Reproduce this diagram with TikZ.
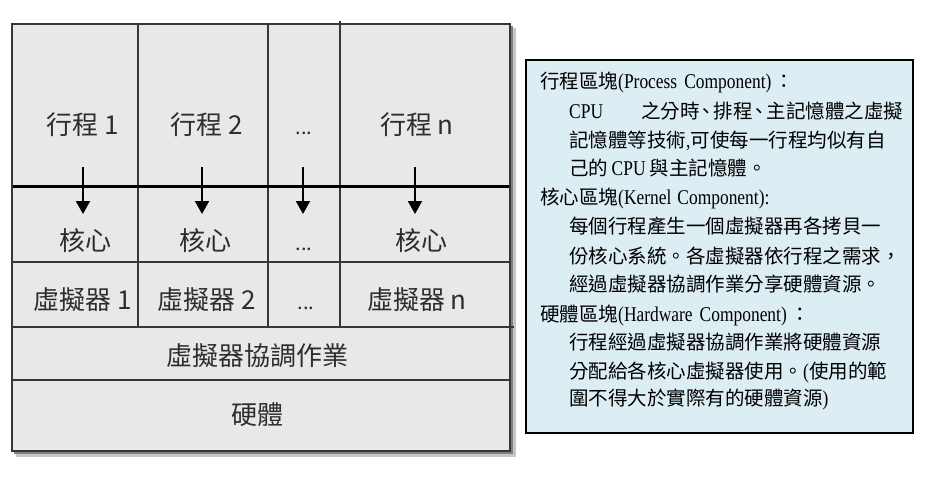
\documentclass[tikz,border=0pt]{standalone}
\usepackage{fontspec}
\setmainfont[FakeStretch=0.83]{Liberation Serif}
\newfontfamily\cjk{Noto Sans CJK TC}
\usetikzlibrary{arrows.meta}
\definecolor{cellfill}{RGB}{232,232,232}
\definecolor{gridline}{RGB}{55,55,55}
\definecolor{labelgray}{RGB}{45,45,45}
\definecolor{notefill}{RGB}{220,237,243}
\newcommand\zhtxt[1]{{\cjk\fontsize{19.5}{22}\selectfont #1}}
\newcommand\zhcomma{\makebox[14pt][c]{\zhtxt{、}}}

\begin{document}
\begin{tikzpicture}[x=1pt,y=-1pt,
  layer/.style={font=\cjk\fontsize{26}{30}\selectfont, text=labelgray, anchor=base, inner sep=0pt},
  dots/.style={font=\cjk\fontsize{20}{24}\selectfont, text=labelgray, anchor=base, inner sep=0pt},
  note/.style={font=\fontsize{21}{24}\selectfont, anchor=base west, inner sep=0pt},
  grid/.style={draw=gridline, line width=2pt},
  flow/.style={draw=black, line width=2pt, -{Triangle[width=14pt,length=13pt]}}]
\useasboundingbox (0,0) rectangle (926,485);

% drop shadow of the layer stack
\fill[black!22] (16,28) rectangle (516,457);
\fill[black!50] (14,26) rectangle (513,454);

% layer stack
\fill[cellfill] (12,24) rectangle (510,451);
\draw[grid] (138,24) -- (138,327) (268,24) -- (268,327) (340,21) -- (340,327);
\draw[grid] (12,262) -- (510,262) (12,327) -- (514,327) (12,380) -- (510,380);
\draw[line width=3pt, black] (13,186) -- (511,186);
\draw[grid] (12,24) rectangle (510,451);

% process row
\node[layer] (p1) at (83,134.5) {行程 1};
\node[layer] (p2) at (207,134.5) {行程 2};
\node[dots]  (pd) at (304,134.5) {...};
\node[layer] (pn) at (417,134.5) {行程 n};

% kernel row
\node[layer] (k1) at (85,250) {核心};
\node[layer] (k2) at (205,250) {核心};
\node[dots]  (kd) at (304,250) {...};
\node[layer] (kn) at (421,250) {核心};

% virtual machine row
\node[layer] (v1) at (83,309.5) {虛擬器 1};
\node[layer] (v2) at (207,309.5) {虛擬器 2};
\node[dots]  (vd) at (306,309.5) {...};
\node[layer] (vn) at (417,309.5) {虛擬器 n};

% shared layers
\node[layer] (coord) at (257,365) {虛擬器協調作業};
\node[layer] (hw) at (257,424.5) {硬體};

% process to kernel arrows
\coordinate (a1s) at (83,167);  \coordinate (a1e) at (83,214);
\coordinate (a2s) at (202,167); \coordinate (a2e) at (202,214);
\coordinate (a3s) at (303,167); \coordinate (a3e) at (303,214);
\coordinate (a4s) at (415,167); \coordinate (a4e) at (415,214);
\draw[flow] (a1s) -- (a1e);
\draw[flow] (a2s) -- (a2e);
\draw[flow] (a3s) -- (a3e);
\draw[flow] (a4s) -- (a4e);

% explanation panel
\draw[line width=1.5pt, fill=notefill] (526,60) rectangle (913,433);
\node[note] (t1)  at (540,88.4)  {\zhtxt{行程區塊}(Process\hspace{7pt}Component)\,\zhtxt{：}};
\node[note] (t2)  at (569,118.4) {\makebox[72pt][l]{CPU}\zhtxt{之分時}\zhcomma\zhtxt{排程}\zhcomma\zhtxt{主記憶體之虛擬}};
\node[note] (t3)  at (569,147.4) {\zhtxt{記憶體等技術},\zhtxt{可使每一行程均似有自}};
\node[note] (t4)  at (569,175.4) {\zhtxt{己的}\,CPU\ \zhtxt{與主記憶體。}};
\node[note] (t5)  at (540,204.4) {\zhtxt{核心區塊}(Kernel\hspace{6pt}Component):};
\node[note] (t6)  at (569,233.4) {\zhtxt{每個行程產生一個虛擬器再各拷貝一}};
\node[note] (t7)  at (569,263.4) {\zhtxt{份核心系統。各虛擬器依行程之需求，}};
\node[note] (t8)  at (569,291.4) {\zhtxt{經過虛擬器協調作業分享硬體資源。}};
\node[note] (t9)  at (540,321.4) {\zhtxt{硬體區塊}(Hardware\hspace{7pt}Component)\,\zhtxt{：}};
\node[note] (t10) at (569,349.4) {\zhtxt{行程經過虛擬器協調作業將硬體資源}};
\node[note] (t11) at (569,378.4) {\zhtxt{分配給各核心虛擬器使用。}(\zhtxt{使用的範}};
\node[note] (t12) at (569,405.4) {\zhtxt{圍不得大於實際有的硬體資源})};
\end{tikzpicture}
\end{document}
